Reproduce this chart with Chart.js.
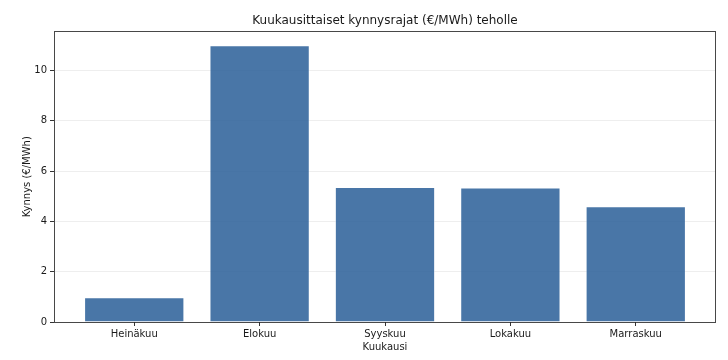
<!DOCTYPE html>
<html>
<head>
<meta charset="utf-8">
<script src="https://cdn.jsdelivr.net/npm/chart.js@4/dist/chart.umd.min.js"></script>
<style>
html,body{margin:0;padding:0;background:#fff;}
#wrap{width:728px;height:360px;}
</style>
</head>
<body>
<div id="wrap"><canvas id="c" width="728" height="360"></canvas></div>
<script>
const categories = ["Heinäkuu", "Elokuu", "Syyskuu", "Lokakuu", "Marraskuu"];
const thresholds = [0.98, 11.0, 5.37, 5.35, 4.6];
const yTicks = [0, 2, 4, 6, 8, 10];
const chartTitle = "Kuukausittaiset kynnysrajat (€/MWh) teholle";
const xTitle = "Kuukausi";
const yTitle = "Kynnys (€/MWh)";

const FONT = "'DejaVu Sans', sans-serif";
const borderPlugin = {
  id: 'frame',
  afterDraw(chart) {
    const {ctx, chartArea: a} = chart;
    ctx.save();
    ctx.strokeStyle = 'rgba(40,40,40,0.85)';
    ctx.lineWidth = 1;
    ctx.strokeRect(Math.round(a.left) + 0.5, Math.round(a.top) + 0.5,
      Math.round(a.right - a.left) - 1, Math.round(a.bottom - a.top));
    ctx.restore();
  }
};

new Chart(document.getElementById('c'), {
  type: 'bar',
  data: {
    datasets: [{
      data: categories.map((c, i) => ({x: i, y: thresholds[i]})),
      backgroundColor: 'rgba(58,106,160,0.92)',
      borderColor: 'rgba(255,255,255,0.35)',
      borderWidth: 1,
      categoryPercentage: 1.0,
      barPercentage: 0.8
    }]
  },
  options: {
    responsive: false,
    animation: false,
    layout: {padding: {left: 0, right: 12, top: 0, bottom: 0}},
    plugins: {
      legend: {display: false},
      tooltip: {enabled: false},
      title: {
        display: true,
        fullSize: false,
        text: chartTitle,
        color: '#1a1a1a',
        font: {family: FONT, size: 12, weight: 'normal', lineHeight: 1.2},
        padding: {top: 14, bottom: 3}
      }
    },
    scales: {
      x: {
        type: 'linear',
        min: -0.64,
        max: 4.64,
        offset: false,
        afterBuildTicks: s => { s.ticks = categories.map((c, i) => ({value: i})); },
        afterFit: s => { s.height = 38; },
        ticks: {
          callback: v => categories[v],
          color: '#1a1a1a',
          font: {family: FONT, size: 10},
          padding: 2,
          maxRotation: 0,
          autoSkip: false
        },
        grid: {offset: false, drawOnChartArea: false, tickLength: 4, tickColor: '#333', color: '#333'},
        border: {display: false},
        title: {
          display: true, text: xTitle, color: '#1a1a1a',
          font: {family: FONT, size: 10, lineHeight: 1.2},
          padding: {top: 0, bottom: 7}
        }
      },
      y: {
        min: 0,
        max: 11.55,
        afterBuildTicks: s => { s.ticks = yTicks.map(v => ({value: v})); },
        afterFit: s => { s.width = 54; },
        ticks: {
          color: '#1a1a1a',
          font: {family: FONT, size: 10},
          padding: 3
        },
        grid: {
          color: c => c.tick && c.tick.value === 0 ? 'rgba(0,0,0,0)' : 'rgba(200,200,200,0.3)',
          tickColor: '#333',
          tickLength: 4,
          lineWidth: 1
        },
        border: {display: false},
        title: {
          display: true, text: yTitle, color: '#1a1a1a',
          font: {family: FONT, size: 10, lineHeight: 1.2},
          padding: {top: 21, bottom: 0}
        }
      }
    }
  },
  plugins: [borderPlugin]
});
</script>
</body>
</html>
